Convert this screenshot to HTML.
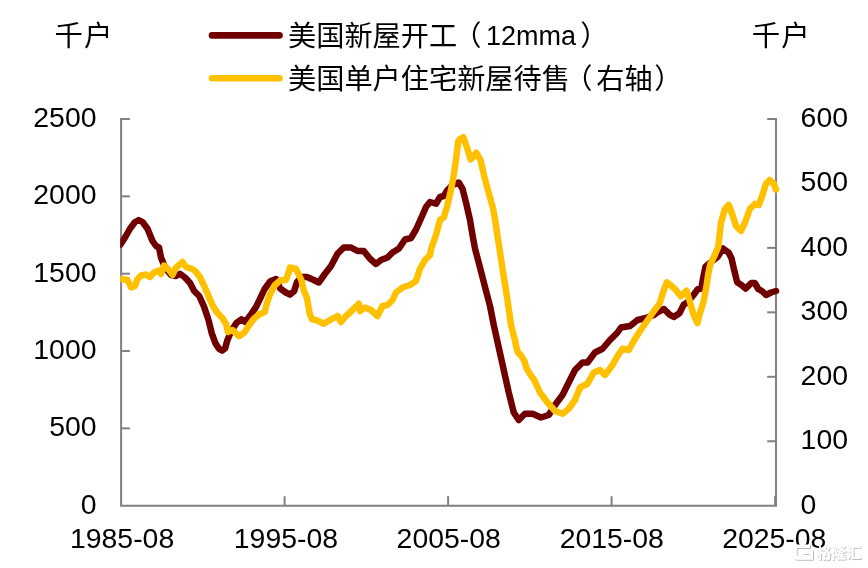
<!DOCTYPE html>
<html lang="zh"><head><meta charset="utf-8"><title>chart</title>
<style>
html,body{margin:0;padding:0;background:#fff;}
body{width:868px;height:568px;overflow:hidden;}
svg{display:block;}
text{font-family:"Liberation Sans","Noto Sans CJK SC",sans-serif;font-size:28.4px;fill:#000;}
g.lg text{font-size:28.2px;}
</style></head><body>
<svg width="868" height="568" viewBox="0 0 868 568">
<rect width="868" height="568" fill="#fff"/>
<g stroke="#808080" stroke-width="2" fill="none">
<path d="M121.1 118V505.7H776.95"/>
<path d="M776 118V505.7"/>
<path d="M121.1 119h8.8"/>
<path d="M121.1 196.34h8.8"/>
<path d="M121.1 273.68h8.8"/>
<path d="M121.1 351.02h8.8"/>
<path d="M121.1 428.36h8.8"/>
<path d="M776 119h-8.8"/>
<path d="M776 183.45h-8.8"/>
<path d="M776 247.9h-8.8"/>
<path d="M776 312.35h-8.8"/>
<path d="M776 376.8h-8.8"/>
<path d="M776 441.25h-8.8"/>
<path d="M284.6 505.7v-9.5"/>
<path d="M448.1 505.7v-9.5"/>
<path d="M611.6 505.7v-9.5"/>
<path d="M775.1 505.7v-9.5"/>
</g>
<defs><clipPath id="cp"><rect x="120.2" y="100" width="680" height="420"/></clipPath></defs>
<polyline points="120.5,244.5 125,237.5 130,228.75 135,222 138.75,220 142.5,222 147.5,228.75 152.5,241 156,246 159,247.5 161,257.5 165,267.5 171,275 176,276 180,273.75 185,277.5 190,283 194.2,291 199.2,296 204,306.6 208.3,319.3 211.8,333.4 215.4,343.2 218.8,348.6 222.3,350.6 225.2,348.2 227.3,340.4 230.8,332 236.5,322.8 241.4,319.3 245.6,322 250.6,315 256.2,306.6 260.4,298 264.6,289 270.3,281.3 276,279 280,288.3 285.8,292.5 290,294.6 294.2,291 297,282 301.3,277 307,277 313.75,280 318.75,282.5 325,273.75 331,266 337.5,253.75 343.75,247.5 351,247.5 357.5,251 363.75,251 370,258.75 376,264 381,260 387.5,257.5 392.5,252.5 398.75,248.75 405,239.5 411,238 416,229.5 421,218.5 426,207 430,202 436,203.75 440,197 443.75,196 447.5,190 452.5,185 458.75,182.5 462.5,188.75 466,202.5 470,220 472.5,235 475,248.5 480,267.5 485,287 490,306 493.75,325 498.75,347.5 503.75,370 508.75,392.5 513.75,412.5 518.75,420 525,413.75 532.5,413.75 541,417.5 548.75,415 555,405 562.5,395 568.75,382.5 575,370 582.5,362.5 587.5,362.5 595,352.5 602.5,348.75 610,340 617.5,332.5 621,327.5 630,326 637.5,320 646,318 653.75,315 658.3,311.8 664,309 669.6,314.6 673.8,317 679.4,313.2 683.7,304.8 687.9,302 693.5,295 697.7,289.3 701.3,288.6 703.4,276.6 705.5,266.8 710.4,262.5 717.5,257 723,248.5 728.7,252.7 731.5,258.3 734.4,271 737.2,282.3 741.4,285 745.6,288.6 751.3,283 754.8,283 758.3,289 762.5,291.5 766,295 771,292.5 776,291" fill="none" stroke="#700000" stroke-width="6.5" clip-path="url(#cp)" stroke-linejoin="round" stroke-linecap="round"/>
<polyline points="120.5,279 127.5,280 131,287.5 135,286 137.5,279 141,275.5 146,274.5 150,277 154,272.5 159,270.5 161,274 164,265.5 169,270 172.5,275 176,267.5 182.5,262 186,267 192.5,269 195.6,271.4 199.9,277 204,285.5 208.3,295.4 212.5,305.2 216.8,312.3 222.4,318 226,324 228,332 232.3,330 239.3,336.2 244.2,332.7 249.2,325 253.4,319.3 259,314.4 264.6,312.3 266.8,303.8 269.6,295.4 274.5,285.5 280,280.6 285.8,279.9 288.6,272.8 290,267.5 296,269 301.3,279.9 304,291 307,298 309.7,313.7 312,319.3 316,320 323.75,323.75 330,320 337.5,316 341,322 346,316 352.5,310 358.75,303.75 360,311 365,307.5 371,310 377.5,316 382.5,306 387.5,305 392.5,300 396,292.5 402.5,287.5 410,285 416,281 420,268.75 425,260 430,255 431.5,247.5 436,235 440,220 443.75,217.5 447.5,205 451,190 453.75,175 456,160 458.2,141.5 460,139 463.3,137.2 467.3,148.5 470.7,159.5 476.3,152.7 480.5,160 484.3,176.5 489.3,195 493.2,209 495.6,223 497.7,237.3 499.9,251.3 502,265.4 503.5,275 507.5,300 511,325 514.9,340 516.3,347 517.7,352 521.5,356.2 524.4,361.1 526.5,368.2 530.7,375.2 534.2,380 540,392.5 547.5,402.5 555,411 562.5,413.75 568.75,408.75 575,400 580,387.5 587.5,383.75 593.75,372.5 600,370 605,375 612.5,365 617.5,356 622.5,348.75 628.75,350 633.75,341 640,331 646,322.5 654,311 659.7,303.4 663.2,292 666.8,282.3 670.3,285 675.2,289.3 680.8,296.3 686.5,290.7 690,302 693.5,314.6 697.5,323 699.9,313.2 703.4,302 706.2,288 708.3,273.8 710.4,264 714.6,255.5 718.2,247 721,222.5 725,208.75 728.75,205 732.5,215 736,226 741,231 745,222.5 750,208.75 755,203.75 758.75,205 762.5,195 766,183.75 769.6,180 773.5,183 776,189.5" fill="none" stroke="#FFC000" stroke-width="6.5" clip-path="url(#cp)" stroke-linejoin="round" stroke-linecap="round"/>
<text x="96.5" y="127" text-anchor="end">2500</text>
<text x="96.5" y="204.34" text-anchor="end">2000</text>
<text x="96.5" y="281.68" text-anchor="end">1500</text>
<text x="96.5" y="359.02" text-anchor="end">1000</text>
<text x="96.5" y="436.36" text-anchor="end">500</text>
<text x="96.5" y="513.7" text-anchor="end">0</text>
<text x="800.6" y="127">600</text>
<text x="800.6" y="191.45">500</text>
<text x="800.6" y="255.9">400</text>
<text x="800.6" y="320.35">300</text>
<text x="800.6" y="384.8">200</text>
<text x="800.6" y="449.25">100</text>
<text x="800.6" y="513.7">0</text>
<text x="122.1" y="548" text-anchor="middle">1985-08</text>
<text x="285.9" y="548" text-anchor="middle">1995-08</text>
<text x="448.7" y="548" text-anchor="middle">2005-08</text>
<text x="611.8" y="548" text-anchor="middle">2015-08</text>
<text x="774.3" y="548" text-anchor="middle">2025-08</text>
<text class="c" x="54.5" y="46" letter-spacing="1.2">千户</text>
<text class="c" x="751.7" y="46" letter-spacing="1.2">千户</text>
<path d="M212 35.4H279.5" stroke="#700000" stroke-width="6.6" stroke-linecap="round" fill="none"/>
<path d="M212 78.3H279.5" stroke="#FFC000" stroke-width="6.6" stroke-linecap="round" fill="none"/>
<g class="lg">
<text x="288" y="46">美国新屋开工</text>
<text x="453.3" y="46">（</text>
<text x="580.3" y="46">）</text>
<text x="288" y="89">美国单户住宅新屋待售</text>
<text x="564.3" y="89">（</text>
<text x="596.2" y="89">右轴</text>
<text x="654.3" y="89">）</text>
</g>
<text x="486" y="45" style="font-size:27px">12mma</text>
<defs><filter id="ws" x="-20%" y="-30%" width="140%" height="160%"><feDropShadow dx="0.6" dy="0.6" stdDeviation="0.7" flood-color="#000" flood-opacity="0.45"/></filter></defs>
<g filter="url(#ws)"><path d="M810 546.2H797.5Q795 546.2 795 548.7V555.5Q795 558 797.5 558H811.3V552.3H803.5" fill="none" stroke="#fff" stroke-width="3.4"/><text x="816.5" y="558.2" style="font-size:15px;fill:#fff;font-weight:bold">格隆汇</text></g>
</svg></body></html>
